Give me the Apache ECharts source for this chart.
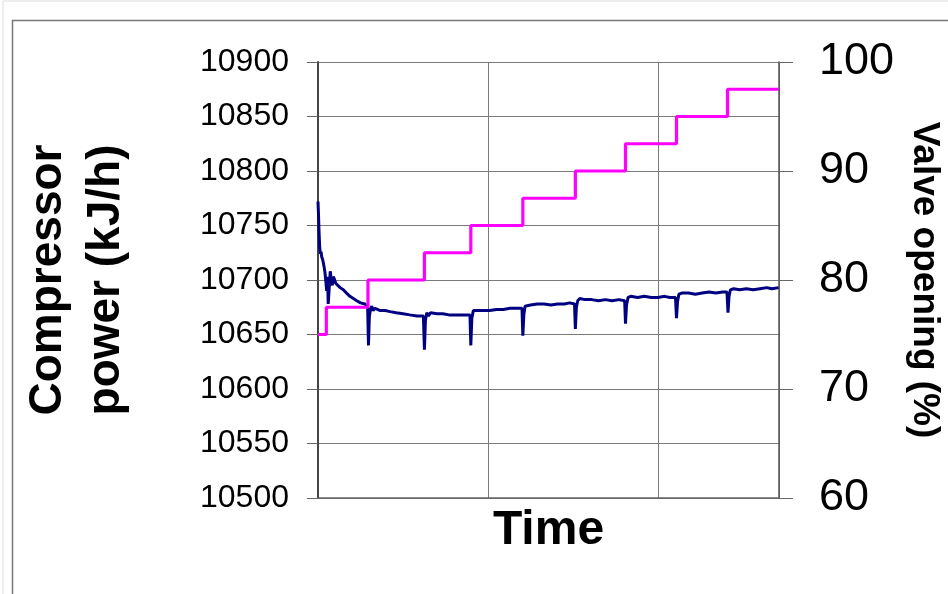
<!DOCTYPE html>
<html>
<head>
<meta charset="utf-8">
<script src="https://cdn.jsdelivr.net/npm/echarts@6/dist/echarts.min.js"></script>
<style>html,body{margin:0;padding:0;background:#fff;}#c{width:948px;height:594px;}</style>
</head>
<body>
<div id="c"></div>
<script>
// ---- data ----
var powerTicks = [10500, 10550, 10600, 10650, 10700, 10750, 10800, 10850, 10900];
var valveTicks = [60, 70, 80, 90, 100];

var powerTime = [0,0.3,0.6,1.0,1.4,1.8,2.2,2.7,3.1,3.6,4.1,4.6,5.1,5.6,6.0,6.5,7.2,7.8,8.4,9.0,9.6,10.4,11.5,13.0,14.9,16.8,18.8,20.8,22.8,25.0,27.6,
  29.2,29.7,30.2,30.8,31.6,32.4,33.5,35.0,36.5,39.5,42.4,46.0,50.0,54.0,58.2,62.0,
  62.6,63.2,64.0,65.0,66.2,67.3,70.0,73.5,77.0,81.8,85.5,89.4,
  89.9,90.5,91.4,92.4,94.5,97.1,101,105,109,113,117,120.0,
  120.5,121.1,121.8,122.8,125,129,133,137,141,145,148,150.9,
  151.4,152.0,152.8,154,157,161,165,169,173,177,180.4,
  180.9,181.5,182.4,184,188,192,196,200,204,207,210.3,
  210.9,211.5,212.3,214,218,222,226,230,234,238,240.6,
  241.2,241.8,242.6,244.5,248,252,256,260,264,267,271];
var powerValue = [10772,10760,10745,10730,10724,10726,10721,10719,10716,10712,10707,10699,10690,10703,10678,10690,10708,10700,10695,10703,10701,10697,10697,10693,10691,10688,10685,10683,10681,10679,10678,
  10675,10640,10666,10673,10676,10672,10674,10673,10672,10672,10671,10670,10669,10668,10667,10667,
  10636,10663,10670,10667,10670,10669,10669,10669,10668,10668,10668,10668,
  10640,10665,10672,10671,10672,10672,10672,10673,10673,10674,10674,10674,
  10649,10668,10676,10677,10677,10678,10678,10677,10678,10678,10679,10678,
  10655,10675,10681,10683,10682,10682,10681,10682,10681,10682,10681,
  10660,10677,10684,10685,10684,10685,10684,10684,10685,10684,10684,
  10665,10680,10687,10688,10688,10687,10688,10689,10688,10689,10689,
  10670,10685,10691,10692,10691,10692,10691,10692,10693,10692,10693];

var valveTime = [0, 4.9, 29.4, 62.6, 89.9, 120.5, 151.4, 180.9, 210.9, 240.9, 271.2];
var valveValue = [75, 77.5, 80, 82.5, 85, 87.5, 90, 92.5, 95, 97.5, 97.5];

var timeMax = 271.2;

// ---- build ----
function pairs(xs, ys) { var o = []; for (var i = 0; i < xs.length; i++) o.push([xs[i], ys[i]]); return o; }
function plain(v) { return String(v); }

var chart = echarts.init(document.getElementById('c'), null, {renderer: 'canvas'});
var font = "'Liberation Sans', Arial, sans-serif";
chart.setOption({
  backgroundColor: '#ffffff',
  animation: false,
  grid: {left: 318, top: 62, right: 169, bottom: 96, containLabel: false},
  graphic: [
    {type: 'rect', shape: {x: 3, y: 1, width: 960, height: 610}, style: {fill: 'none', stroke: '#dddddd', lineWidth: 1}, silent: true},
    {type: 'rect', shape: {x: 12.5, y: 20.5, width: 950, height: 600}, style: {fill: 'none', stroke: '#777777', lineWidth: 1.5}, silent: true}
  ],
  xAxis: {
    type: 'value', min: 0, max: timeMax, interval: 100,
    name: 'Time', nameLocation: 'middle', nameGap: 9,
    nameTextStyle: {fontFamily: font, fontSize: 48, fontWeight: 'bold', color: '#000', verticalAlign: 'top'},
    axisLine: {show: true, onZero: false, lineStyle: {color: '#666', width: 1.5}},
    axisTick: {show: false},
    axisLabel: {show: false},
    splitLine: {show: true, lineStyle: {color: '#7a7a7a', width: 1}}
  },
  yAxis: [
    {
      type: 'value', position: 'left', min: powerTicks[0], max: powerTicks[powerTicks.length - 1], interval: 50,
      name: 'Compressor\npower (kJ/h)', nameLocation: 'middle', nameRotate: 90, nameGap: 183,
      nameTextStyle: {fontFamily: font, fontSize: 46, fontWeight: 'bold', color: '#000', lineHeight: 58, align: 'center'},
      axisLine: {show: true, lineStyle: {color: '#444', width: 2}},
      axisTick: {show: true, inside: false, length: 11, lineStyle: {color: '#666', width: 1}},
      axisLabel: {fontFamily: font, fontSize: 32, color: '#000', margin: 29, formatter: plain},
      splitLine: {show: true, lineStyle: {color: '#7a7a7a', width: 1}}
    },
    {
      type: 'value', position: 'right', min: valveTicks[0], max: valveTicks[valveTicks.length - 1], interval: 10,
      name: 'Valve opening (%)', nameLocation: 'middle', nameRotate: -90, nameGap: 127,
      nameTextStyle: {fontFamily: font, fontSize: 37, fontWeight: 'bold', color: '#000'},
      axisLine: {show: true, lineStyle: {color: '#555', width: 1.5}},
      axisTick: {show: true, inside: false, length: 14, lineStyle: {color: '#666', width: 1}},
      axisLabel: {fontFamily: font, fontSize: 45, color: '#000', margin: 40, formatter: plain},
      splitLine: {show: false}
    }
  ],
  series: [
    {
      name: 'Compressor power', type: 'line', yAxisIndex: 0, showSymbol: false, symbol: 'none',
      data: pairs(powerTime, powerValue),
      lineStyle: {color: '#000080', width: 3}, z: 3
    },
    {
      name: 'Valve opening', type: 'line', yAxisIndex: 1, showSymbol: false, symbol: 'none', step: 'end',
      data: pairs(valveTime, valveValue),
      lineStyle: {color: '#ff00ff', width: 3.2}, z: 4
    }
  ]
});
</script>
</body>
</html>
